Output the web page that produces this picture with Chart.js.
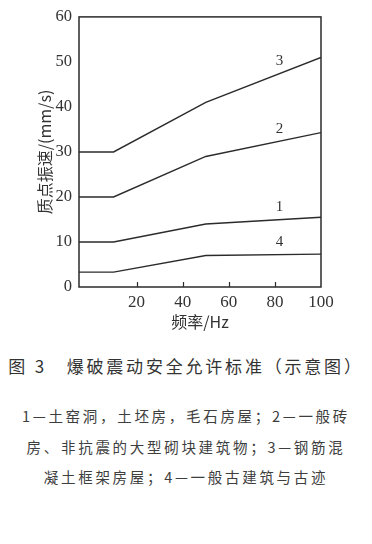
<!DOCTYPE html>
<html>
<head>
<meta charset="utf-8">
<script src="https://cdn.jsdelivr.net/npm/chart.js@4/dist/chart.umd.min.js"></script>
<style>
  html, body { margin: 0; padding: 0; background: #ffffff; }
  body { width: 372px; height: 544px; position: relative; overflow: hidden; }
  #wrap { position: absolute; left: 0; top: 0; width: 372px; height: 340px; }
  .cap { position: absolute; left: 0; width: 372px; text-align: center; color: #333;
         font-family: "Noto Sans CJK SC", "Liberation Serif", serif; white-space: nowrap; }
  #title { top: 353px; font-size: 17px; letter-spacing: 2.8px; }
  .note { font-size: 14.5px; letter-spacing: 2.7px; color: #3e3e3e; }
</style>
</head>
<body>
<div id="wrap"><canvas id="c" width="372" height="340"></canvas></div>
<div id="title" class="cap">图 3　爆破震动安全允许标准（示意图）</div>
<div class="cap note" style="top:405px;">1—土窑洞，土坯房，毛石房屋；2—一般砖</div>
<div class="cap note" style="top:436px;">房、非抗震的大型砌块建筑物；3—钢筋混</div>
<div class="cap note" style="top:466px;">凝土框架房屋；4—一般古建筑与古迹</div>
<script>
// Frequency breakpoints (Hz) and allowable particle velocity (mm/s) per building class
const freq = [-5, 10, 50, 100];
const class1 = [10, 10, 14, 15.5];
const class2 = [20, 20, 29, 34.3];
const class3 = [30, 30, 41, 51];
const class4 = [3.3, 3.3, 7, 7.3];
const seriesNames = ['1', '2', '3', '4'];
const xTicks = [20, 40, 60, 80, 100];
const yTicks = [0, 10, 20, 30, 40, 50, 60];

const ink = '#2b2b2b';
const serif = '"Liberation Serif", "DejaVu Serif", serif';

const makeSet = (name, vals) => ({
  label: name,
  data: freq.map((f, i) => ({ x: f, y: vals[i] })),
  borderColor: ink,
  borderWidth: 1.4,
  pointRadius: 0,
  fill: false,
  tension: 0
});

// Frame around the plot, inward ticks on the frequency axis, curve numbers
const frame = {
  id: 'frame',
  afterDatasetsDraw(chart) {
    const { ctx, chartArea: a, scales: { x, y } } = chart;
    ctx.save();
    ctx.strokeStyle = ink;
    ctx.lineWidth = 1.5;
    ctx.strokeRect(a.left, a.top, a.right - a.left, a.bottom - a.top);
    ctx.beginPath();
    xTicks.slice(0, -1).forEach(v => {
      const px = Math.round(x.getPixelForValue(v)) + 0.5;
      ctx.moveTo(px, a.bottom);
      ctx.lineTo(px, a.bottom - 5);
    });
    ctx.lineWidth = 1.2;
    ctx.stroke();
    ctx.fillStyle = '#333';
    ctx.font = '15px ' + serif;
    ctx.textAlign = 'center';
    ctx.textBaseline = 'bottom';
    chart.data.datasets.forEach(ds => {
      const lx = 82;
      // value of the segment under the label
      const pts = ds.data;
      let vy = pts[pts.length - 1].y;
      for (let k = 0; k < pts.length - 1; k++) {
        if (lx >= pts[k].x && lx <= pts[k + 1].x) {
          const t = (lx - pts[k].x) / (pts[k + 1].x - pts[k].x);
          vy = pts[k].y + t * (pts[k + 1].y - pts[k].y);
        }
      }
      ctx.fillText(ds.label, x.getPixelForValue(lx), y.getPixelForValue(vy) - 5);
    });
    ctx.restore();
  }
};

new Chart(document.getElementById('c'), {
  type: 'line',
  data: {
    datasets: [
      makeSet(seriesNames[0], class1),
      makeSet(seriesNames[1], class2),
      makeSet(seriesNames[2], class3),
      makeSet(seriesNames[3], class4)
    ]
  },
  options: {
    responsive: false,
    animation: false,
    layout: { padding: { top: 15, right: 51, left: 0, bottom: 0 } },
    plugins: { legend: { display: false }, tooltip: { enabled: false } },
    scales: {
      x: {
        type: 'linear',
        min: -5,
        max: 100,
        afterBuildTicks: s => { s.ticks = xTicks.map(v => ({ value: v })); },
        afterFit: s => { s.height = 53; },
        grid: { display: false, drawTicks: false },
        border: { display: false },
        ticks: { color: '#333', font: { family: serif, size: 17 }, padding: 5, maxRotation: 0 },
        title: {
          display: true,
          text: '频率/Hz',
          color: '#333',
          font: { family: '"Noto Sans CJK SC", serif', size: 16 },
          padding: { top: 0, bottom: 8 }
        }
      },
      y: {
        min: 0,
        max: 60,
        afterBuildTicks: s => { s.ticks = yTicks.map(v => ({ value: v })); },
        afterFit: s => { s.width = 79; },
        grid: { display: false, drawTicks: false },
        border: { display: false },
        ticks: { color: '#333', font: { family: serif, size: 16.5 }, padding: 7 },
        title: {
          display: true,
          text: '质点振速/(mm/s)',
          color: '#333',
          font: { family: '"Noto Sans CJK SC", serif', size: 16 },
          padding: { top: 35, bottom: 0 }
        }
      }
    }
  },
  plugins: [frame]
});
</script>
</body>
</html>
